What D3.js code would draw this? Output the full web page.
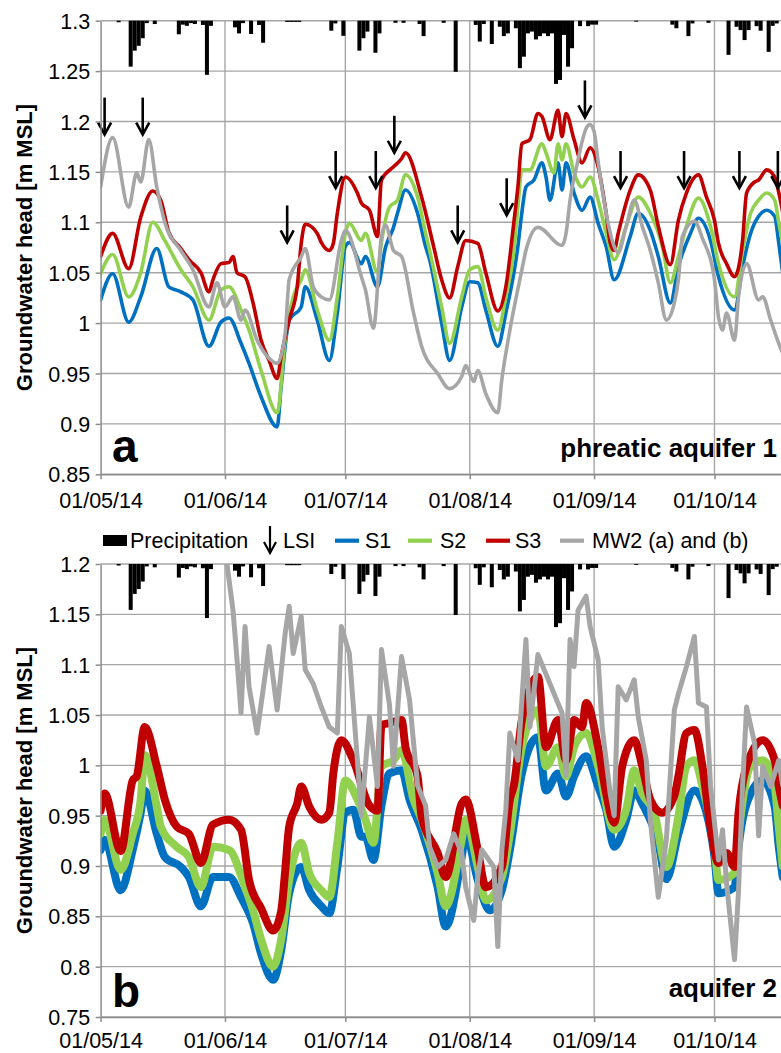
<!DOCTYPE html>
<html>
<head>
<meta charset="utf-8">
<script src="https://cdn.jsdelivr.net/npm/d3@7"></script>
<style>
  html, body { margin: 0; padding: 0; background: #fff; }
  svg { display: block; }
</style>
</head>
<body>
<svg id="chart" width="781" height="1053"></svg>
<script>
// ---------- data ----------
const monthTicks = ["2014-05-01", "2014-06-01", "2014-07-01", "2014-08-01", "2014-09-01", "2014-10-01"];
const headTicksA = [0.85, 0.9, 0.95, 1, 1.05, 1.1, 1.15, 1.2, 1.25, 1.3];
const headTicksB = [0.75, 0.8, 0.85, 0.9, 0.95, 1, 1.05, 1.1, 1.15, 1.2];

// daily precipitation [mm], hanging from the top of each panel
const precipitation = [
  ["2014-05-05",0.5],["2014-05-08",15.2],["2014-05-09",9.9],["2014-05-10",8.3],["2014-05-11",5.8],["2014-05-12",0.8],
  ["2014-05-14",1.1],["2014-05-20",4.5],["2014-05-21",1.3],["2014-05-22",1.7],["2014-05-23",0.8],["2014-05-24",1.1],
  ["2014-05-26",1.4],["2014-05-27",17.9],["2014-05-28",1.7],["2014-06-03",2.2],["2014-06-04",4.2],["2014-06-05",0.8],
  ["2014-06-07",4.4],["2014-06-09",1.4],["2014-06-10",7.3],["2014-06-16",0.4],["2014-06-17",0.4],["2014-06-18",0.4],
  ["2014-06-19",0.4],["2014-06-27",3.3],["2014-06-28",0.9],["2014-06-30",5.0],["2014-07-04",9.9],["2014-07-05",5.8],
  ["2014-07-06",3.6],["2014-07-08",10.6],["2014-07-09",4.2],["2014-07-13",0.7],["2014-07-15",0.7],["2014-07-19",1.1],
  ["2014-07-20",5.1],["2014-07-25",0.7],["2014-07-28",16.9],["2014-08-02",1.4],["2014-08-03",6.9],["2014-08-04",1.1],
  ["2014-08-06",7.7],["2014-08-08",2.0],["2014-08-09",5.1],["2014-08-10",4.2],["2014-08-12",2.5],["2014-08-13",15.7],
  ["2014-08-14",11.9],["2014-08-15",4.2],["2014-08-16",3.6],["2014-08-17",6.2],["2014-08-18",5.1],["2014-08-19",4.2],
  ["2014-08-20",5.1],["2014-08-21",4.2],["2014-08-22",20.9],["2014-08-23",19.6],["2014-08-24",4.7],["2014-08-25",15.2],
  ["2014-08-26",9.1],["2014-08-28",1.8],["2014-08-30",1.8],["2014-08-31",1.3],["2014-09-01",1.3],["2014-09-11",0.3],
  ["2014-09-20",1.3],["2014-09-21",2.5],["2014-09-24",5.1],["2014-09-25",0.9],["2014-09-29",0.7],["2014-10-04",11.3],
  ["2014-10-06",2.0],["2014-10-07",3.1],["2014-10-08",6.4],["2014-10-09",3.1],["2014-10-11",1.8],["2014-10-12",3.3],
  ["2014-10-14",10.3],["2014-10-15",1.7],["2014-10-16",0.9]
];
const precipMax = 150;

// LSI events: date and head level at the arrow tip
const lsiEvents = [
  ["2014-05-02",1.187],["2014-05-11T12:00Z",1.187],["2014-06-16T12:00Z",1.080],["2014-06-28T14:00Z",1.134],
  ["2014-07-08T14:00Z",1.134],["2014-07-13T05:00Z",1.169],["2014-07-29",1.080],["2014-08-10T05:00Z",1.107],
  ["2014-08-29T17:00Z",1.204],["2014-09-07T14:00Z",1.134],["2014-09-23T10:00Z",1.134],["2014-10-07T05:00Z",1.134],
  ["2014-10-16T19:00Z",1.134]
];

// (a) phreatic aquifer 1 - groundwater head [m MSL]
const aS1 = [
  ["2014-05-01",1.023],["2014-05-04",1.049],["2014-05-08",1.001],["2014-05-11",1.026],["2014-05-15",1.074],["2014-05-18",1.036],
  ["2014-05-21",1.031],["2014-05-24",1.023],["2014-05-28",0.977],["2014-05-31",1.001],["2014-06-02",1.005],["2014-06-05",0.98],
  ["2014-06-07",0.96],["2014-06-10",0.927],["2014-06-14",0.897],["2014-06-15",0.937],["2014-06-17",1.003],["2014-06-20",1.016],
  ["2014-06-21",1.036],["2014-06-24",1.003],["2014-06-27",0.963],["2014-06-29",1.01],["2014-07-01",1.076],["2014-07-02",1.08],
  ["2014-07-05",1.059],["2014-07-06",1.066],["2014-07-09",1.036],["2014-07-11",1.075],["2014-07-13",1.095],["2014-07-14",1.109],
  ["2014-07-16",1.132],["2014-07-19",1.109],["2014-07-21",1.076],["2014-07-22",1.063],["2014-07-25",1.0],["2014-07-27",0.963],
  ["2014-07-30",1.016],["2014-08-01",1.041],["2014-08-03",1.04],["2014-08-05",1.013],["2014-08-08",0.977],["2014-08-10",1.01],
  ["2014-08-13",1.076],["2014-08-14",1.11],["2014-08-15",1.135],["2014-08-17",1.142],["2014-08-19",1.159],["2014-08-20",1.145],
  ["2014-08-21",1.122],["2014-08-23",1.159],["2014-08-24",1.132],["2014-08-25",1.159],["2014-08-27",1.129],["2014-08-29",1.112],
  ["2014-08-31",1.125],["2014-09-02",1.099],["2014-09-04",1.076],["2014-09-06",1.043],["2014-09-10",1.086],["2014-09-12",1.109],
  ["2014-09-15",1.092],["2014-09-17",1.066],["2014-09-20",1.02],["2014-09-22",1.056],["2014-09-25",1.089],["2014-09-27",1.104],
  ["2014-09-30",1.082],["2014-10-02",1.046],["2014-10-06",1.013],["2014-10-08",1.056],["2014-10-10",1.089],["2014-10-12",1.106],
  ["2014-10-14",1.112],["2014-10-16",1.106],["2014-10-17",1.08],["2014-10-18",1.05]
];
const aS2 = [
  ["2014-05-01",1.049],["2014-05-04",1.068],["2014-05-08",1.026],["2014-05-11",1.05],["2014-05-14",1.1],["2014-05-17",1.082],
  ["2014-05-21",1.053],["2014-05-24",1.036],["2014-05-28",1.003],["2014-05-31",1.033],["2014-06-02",1.036],["2014-06-05",1.013],
  ["2014-06-07",0.993],["2014-06-10",0.953],["2014-06-14",0.911],["2014-06-16",0.983],["2014-06-18",1.026],["2014-06-20",1.043],
  ["2014-06-21",1.053],["2014-06-24",1.013],["2014-06-27",0.983],["2014-06-29",1.026],["2014-07-01",1.089],["2014-07-02",1.099],
  ["2014-07-05",1.082],["2014-07-06",1.089],["2014-07-09",1.05],["2014-07-10",1.08],["2014-07-12",1.115],["2014-07-14",1.122],
  ["2014-07-16",1.147],["2014-07-19",1.125],["2014-07-21",1.089],["2014-07-22",1.072],["2014-07-25",1.016],["2014-07-27",0.98],
  ["2014-07-30",1.026],["2014-08-01",1.053],["2014-08-03",1.056],["2014-08-05",1.026],["2014-08-08",0.993],["2014-08-10",1.026],
  ["2014-08-12",1.072],["2014-08-13",1.115],["2014-08-14",1.152],["2014-08-16",1.152],["2014-08-19",1.178],["2014-08-20",1.169],
  ["2014-08-22",1.149],["2014-08-23",1.178],["2014-08-24",1.162],["2014-08-25",1.178],["2014-08-27",1.149],["2014-08-29",1.135],
  ["2014-08-31",1.145],["2014-09-02",1.122],["2014-09-04",1.089],["2014-09-06",1.063],["2014-09-09",1.096],["2014-09-12",1.125],
  ["2014-09-15",1.109],["2014-09-18",1.076],["2014-09-20",1.04],["2014-09-22",1.066],["2014-09-24",1.096],["2014-09-27",1.124],
  ["2014-09-30",1.096],["2014-10-02",1.059],["2014-10-06",1.026],["2014-10-08",1.072],["2014-10-10",1.109],["2014-10-12",1.122],
  ["2014-10-14",1.129],["2014-10-16",1.122],["2014-10-17",1.1],["2014-10-18",1.08]
];
const aS3 = [
  ["2014-05-01",1.066],["2014-05-04",1.089],["2014-05-08",1.054],["2014-05-11",1.105],["2014-05-14",1.131],["2014-05-16",1.122],
  ["2014-05-18",1.09],["2014-05-21",1.074],["2014-05-23",1.063],["2014-05-26",1.05],["2014-05-28",1.031],["2014-05-29",1.043],
  ["2014-05-31",1.059],["2014-06-02",1.06],["2014-06-03",1.066],["2014-06-04",1.05],["2014-06-06",1.046],["2014-06-08",1.02],
  ["2014-06-10",0.983],["2014-06-12",0.963],["2014-06-14",0.945],["2014-06-15",0.967],["2014-06-17",1.003],["2014-06-19",1.036],
  ["2014-06-20",1.079],["2014-06-21",1.098],["2014-06-24",1.089],["2014-06-25",1.08],["2014-06-27",1.072],["2014-06-28",1.079],
  ["2014-06-29",1.109],["2014-07-01",1.145],["2014-07-04",1.129],["2014-07-05",1.119],["2014-07-07",1.112],["2014-07-09",1.086],
  ["2014-07-10",1.142],["2014-07-13",1.155],["2014-07-15",1.163],["2014-07-16",1.169],["2014-07-20",1.125],["2014-07-23",1.076],
  ["2014-07-25",1.043],["2014-07-27",1.025],["2014-07-29",1.056],["2014-07-31",1.082],["2014-08-03",1.079],["2014-08-05",1.05],
  ["2014-08-08",1.012],["2014-08-10",1.036],["2014-08-12",1.1],["2014-08-13",1.135],["2014-08-14",1.178],["2014-08-16",1.182],
  ["2014-08-18",1.208],["2014-08-19",1.205],["2014-08-21",1.182],["2014-08-23",1.211],["2014-08-24",1.185],["2014-08-25",1.208],
  ["2014-08-27",1.182],["2014-08-29",1.159],["2014-08-31",1.174],["2014-09-02",1.155],["2014-09-04",1.109],["2014-09-05",1.08],
  ["2014-09-06",1.072],["2014-09-07",1.089],["2014-09-10",1.132],["2014-09-12",1.147],["2014-09-15",1.132],["2014-09-17",1.096],
  ["2014-09-20",1.058],["2014-09-22",1.102],["2014-09-24",1.129],["2014-09-27",1.147],["2014-09-29",1.125],["2014-10-01",1.102],
  ["2014-10-02",1.079],["2014-10-04",1.059],["2014-10-06",1.046],["2014-10-08",1.082],["2014-10-09",1.129],["2014-10-11",1.14],
  ["2014-10-12",1.142],["2014-10-14",1.152],["2014-10-16",1.145],["2014-10-17",1.13],["2014-10-18",1.11]
];
const aMW2 = [
  ["2014-05-01",1.135],["2014-05-04",1.184],["2014-05-08",1.115],["2014-05-10",1.149],["2014-05-11",1.14],["2014-05-13",1.182],
  ["2014-05-15",1.135],["2014-05-17",1.10],["2014-05-21",1.072],["2014-05-24",1.053],["2014-05-28",1.016],["2014-05-30",1.04],
  ["2014-06-01",1.016],["2014-06-03",1.026],["2014-06-05",1.003],["2014-06-06",1.013],["2014-06-09",0.983],["2014-06-12",0.965],
  ["2014-06-14",0.96],["2014-06-16",0.99],["2014-06-17",1.043],["2014-06-20",1.066],["2014-06-21",1.074],["2014-06-23",1.036],
  ["2014-06-25",1.026],["2014-06-27",1.023],["2014-06-30",1.082],["2014-07-01",1.092],["2014-07-05",1.046],["2014-07-06",1.033],
  ["2014-07-08",0.995],["2014-07-10",1.086],["2014-07-11",1.097],["2014-07-13",1.072],["2014-07-15",1.066],["2014-07-18",1.01],
  ["2014-07-20",0.977],["2014-07-24",0.95],["2014-07-27",0.935],["2014-07-30",0.947],["2014-07-31",0.958],["2014-08-02",0.942],
  ["2014-08-03",0.953],["2014-08-05",0.93],["2014-08-08",0.911],["2014-08-09",0.944],["2014-08-11",0.993],["2014-08-14",1.053],
  ["2014-08-15",1.072],["2014-08-18",1.095],["2014-08-24",1.077],["2014-08-25",1.089],["2014-08-26",1.122],["2014-08-28",1.162],
  ["2014-08-29",1.18],["2014-08-30",1.193],["2014-08-31",1.197],["2014-09-01",1.19],["2014-09-02",1.16],["2014-09-04",1.109],
  ["2014-09-06",1.076],["2014-09-07",1.07],["2014-09-09",1.096],["2014-09-11",1.122],["2014-09-13",1.096],["2014-09-15",1.072],
  ["2014-09-17",1.04],["2014-09-19",1.003],["2014-09-21",1.02],["2014-09-22",1.043],["2014-09-23",1.086],["2014-09-26",1.101],
  ["2014-09-28",1.084],["2014-10-01",1.043],["2014-10-02",1.006],["2014-10-03",0.993],["2014-10-04",1.01],["2014-10-06",0.983],
  ["2014-10-07",1.026],["2014-10-09",1.059],["2014-10-12",1.023],["2014-10-13",1.026],["2014-10-15",1.003],["2014-10-17",0.98],
  ["2014-10-18",0.97]
];

// (b) aquifer 2 - groundwater head [m MSL]
const bS1 = [
  ["2014-05-01",0.916],["2014-05-02",0.926],["2014-05-06",0.876],["2014-05-09",0.916],["2014-05-11",0.953],["2014-05-12",0.975],
  ["2014-05-15",0.932],["2014-05-17",0.909],["2014-05-21",0.899],["2014-05-23",0.889],["2014-05-26",0.86],["2014-05-29",0.889],
  ["2014-06-02",0.889],["2014-06-05",0.869],["2014-06-08",0.843],["2014-06-10",0.813],["2014-06-13",0.787],["2014-06-15",0.816],
  ["2014-06-17",0.873],["2014-06-20",0.899],["2014-06-22",0.876],["2014-06-25",0.86],["2014-06-27",0.853],["2014-06-29",0.899],
  ["2014-07-01",0.953],["2014-07-03",0.956],["2014-07-05",0.929],["2014-07-06",0.929],["2014-07-08",0.906],["2014-07-10",0.96],
  ["2014-07-12",0.992],["2014-07-15",0.995],["2014-07-17",0.966],["2014-07-20",0.936],["2014-07-24",0.879],["2014-07-26",0.84],
  ["2014-07-30",0.909],["2014-07-31",0.932],["2014-08-03",0.886],["2014-08-06",0.856],["2014-08-09",0.876],["2014-08-11",0.916],
  ["2014-08-14",0.992],["2014-08-18",1.028],["2014-08-20",0.975],["2014-08-23",0.992],["2014-08-25",0.969],["2014-08-27",0.989],
  ["2014-08-30",1.009],["2014-09-02",0.979],["2014-09-04",0.956],["2014-09-06",0.919],["2014-09-09",0.946],["2014-09-11",0.975],
  ["2014-09-13",0.962],["2014-09-17",0.923],["2014-09-19",0.887],["2014-09-22",0.932],["2014-09-26",0.975],["2014-09-29",0.953],
  ["2014-10-01",0.909],["2014-10-02",0.873],["2014-10-06",0.879],["2014-10-07",0.919],["2014-10-10",0.972],["2014-10-13",0.985],
  ["2014-10-16",0.959],["2014-10-17",0.92],["2014-10-18",0.889]
];
const bS2 = [
  ["2014-05-01",0.932],["2014-05-02",0.946],["2014-05-06",0.896],["2014-05-09",0.932],["2014-05-11",0.966],["2014-05-12",1.01],
  ["2014-05-15",0.959],["2014-05-16",0.939],["2014-05-20",0.919],["2014-05-23",0.909],["2014-05-26",0.879],["2014-05-29",0.919],
  ["2014-06-02",0.916],["2014-06-06",0.879],["2014-06-08",0.856],["2014-06-10",0.827],["2014-06-13",0.80],["2014-06-15",0.827],
  ["2014-06-17",0.886],["2014-06-20",0.923],["2014-06-22",0.893],["2014-06-25",0.876],["2014-06-27",0.869],["2014-06-29",0.923],
  ["2014-07-01",0.985],["2014-07-04",0.966],["2014-07-06",0.946],["2014-07-08",0.923],["2014-07-10",0.999],["2014-07-13",1.005],
  ["2014-07-15",1.015],["2014-07-18",0.966],["2014-07-20",0.946],["2014-07-24",0.893],["2014-07-26",0.86],["2014-07-30",0.926],
  ["2014-07-31",0.946],["2014-08-03",0.899],["2014-08-05",0.866],["2014-08-09",0.889],["2014-08-11",0.932],["2014-08-14",1.018],
  ["2014-08-18",1.055],["2014-08-20",0.999],["2014-08-23",1.018],["2014-08-25",0.989],["2014-08-27",1.018],["2014-08-30",1.032],
  ["2014-09-02",0.999],["2014-09-06",0.936],["2014-09-09",0.956],["2014-09-11",0.995],["2014-09-13",0.972],["2014-09-16",0.953],
  ["2014-09-19",0.899],["2014-09-22",0.949],["2014-09-24",0.999],["2014-09-26",1.005],["2014-09-28",0.979],["2014-10-01",0.919],
  ["2014-10-02",0.886],["2014-10-06",0.893],["2014-10-07",0.932],["2014-10-10",0.999],["2014-10-13",1.005],["2014-10-16",0.979],
  ["2014-10-17",0.94],["2014-10-18",0.9]
];
const bS3 = [
  ["2014-05-01",0.955],["2014-05-02",0.972],["2014-05-06",0.915],["2014-05-09",0.985],["2014-05-10",0.989],["2014-05-12",1.038],
  ["2014-05-15",0.999],["2014-05-17",0.966],["2014-05-20",0.939],["2014-05-23",0.932],["2014-05-26",0.903],["2014-05-29",0.941],
  ["2014-06-02",0.946],["2014-06-05",0.936],["2014-06-07",0.886],["2014-06-10",0.858],["2014-06-13",0.836],["2014-06-15",0.855],
  ["2014-06-16",0.895],["2014-06-17",0.939],["2014-06-19",0.962],["2014-06-20",0.979],["2014-06-22",0.959],["2014-06-25",0.946],
  ["2014-06-27",0.953],["2014-06-28",0.992],["2014-06-30",1.025],["2014-07-03",1.005],["2014-07-07",0.96],["2014-07-09",0.955],
  ["2014-07-10",1.04],["2014-07-12",1.042],["2014-07-15",1.045],["2014-07-16",1.018],["2014-07-19",0.989],["2014-07-20",0.949],
  ["2014-07-24",0.913],["2014-07-26",0.889],["2014-07-30",0.962],["2014-07-31",0.966],["2014-08-03",0.916],["2014-08-05",0.879],
  ["2014-08-09",0.899],["2014-08-11",0.966],["2014-08-12",0.98],["2014-08-14",1.045],["2014-08-18",1.088],["2014-08-20",1.018],
  ["2014-08-23",1.045],["2014-08-25",1.005],["2014-08-27",1.045],["2014-08-29",1.038],["2014-08-30",1.062],["2014-09-02",1.018],
  ["2014-09-04",0.972],["2014-09-06",0.943],["2014-09-08",0.999],["2014-09-11",1.025],["2014-09-13",0.999],["2014-09-15",0.966],
  ["2014-09-18",0.953],["2014-09-21",0.97],["2014-09-22",0.989],["2014-09-24",1.032],["2014-09-26",1.035],["2014-09-28",0.999],
  ["2014-09-30",0.939],["2014-10-02",0.903],["2014-10-04",0.913],["2014-10-06",0.899],["2014-10-07",0.953],["2014-10-09",0.999],
  ["2014-10-13",1.025],["2014-10-16",1.005],["2014-10-17",0.98],["2014-10-18",0.96]
];
const bMW2 = [
  ["2014-06-01",1.215],["2014-06-03",1.154],["2014-06-04",1.105],["2014-06-05",1.052],["2014-06-06",1.138],["2014-06-07",1.078],
  ["2014-06-09",1.032],["2014-06-12",1.118],["2014-06-14",1.055],["2014-06-16",1.131],["2014-06-17",1.158],["2014-06-18",1.111],
  ["2014-06-20",1.148],["2014-06-21",1.095],["2014-06-23",1.081],["2014-06-25",1.058],["2014-06-27",1.038],["2014-06-29",1.032],
  ["2014-06-30",1.138],["2014-07-02",1.111],["2014-07-04",1.005],["2014-07-05",0.95],["2014-07-07",1.048],["2014-07-09",0.979],
  ["2014-07-10",1.115],["2014-07-12",1.06],["2014-07-13",0.999],["2014-07-15",1.108],["2014-07-17",1.065],["2014-07-19",0.98],
  ["2014-07-21",0.96],["2014-07-22",0.919],["2014-07-24",0.899],["2014-07-26",0.906],["2014-07-28",0.932],["2014-07-30",0.913],
  ["2014-07-31",0.879],["2014-08-02",0.846],["2014-08-03",0.889],["2014-08-04",0.916],["2014-08-07",0.899],["2014-08-08",0.82],
  ["2014-08-09",0.916],["2014-08-10",0.956],["2014-08-11",1.032],["2014-08-13",1.005],["2014-08-15",1.125],["2014-08-16",1.038],
  ["2014-08-18",1.11],["2014-08-24",1.052],["2014-08-25",0.99],["2014-08-26",1.125],["2014-08-27",1.098],["2014-08-28",1.154],
  ["2014-08-30",1.168],["2014-08-31",1.138],["2014-09-02",1.105],["2014-09-03",1.038],["2014-09-05",0.972],["2014-09-06",0.95],
  ["2014-09-07",1.078],["2014-09-09",1.065],["2014-09-11",1.085],["2014-09-12",1.048],["2014-09-14",1.005],["2014-09-15",0.946],
  ["2014-09-17",0.869],["2014-09-19",0.926],["2014-09-21",1.055],["2014-09-22",1.071],["2014-09-24",1.098],["2014-09-26",1.128],
  ["2014-09-27",1.062],["2014-09-29",1.058],["2014-09-30",0.98],["2014-10-02",0.906],["2014-10-03",0.936],["2014-10-04",0.883],
  ["2014-10-06",0.807],["2014-10-07",0.876],["2014-10-08",0.98],["2014-10-09",1.058],["2014-10-11",1.022],["2014-10-12",0.93],
  ["2014-10-13",0.999],["2014-10-15",0.979],["2014-10-17",1.005],["2014-10-18",0.98]
];

// ---------- drawing ----------
const FONT = '"Liberation Sans", Arial, Helvetica, sans-serif';
const GRID = "#a6a6a6";
const AXIS = "#8c8c8c";
const COLOR = { S1: "#0070c0", S2: "#92d050", S3: "#c00000", MW2: "#a6a6a6" };
const W = 781;

const parse = d3.isoParse;
const svg = d3.select("#chart").attr("font-family", FONT);

const x = d3.scaleUtc()
  .domain([parse("2014-05-01"), parse("2014-10-18")])
  .range([100.6, 782.7]);
const x0 = x.range()[0];
const dayWidth = x(parse("2014-05-02")) - x(parse("2014-05-01"));
const monthDates = monthTicks.map(parse);

const smooth = d3.curveMonotoneX;
const panels = [
  {
    key: "a", top: 20.7, bottom: 474.3, domain: [0.85, 1.3], ticks: headTicksA,
    series: [[aS1, "S1"], [aS2, "S2"], [aS3, "S3"], [aMW2, "MW2"]],
    width: { S1: 3.6, S2: 3.6, S3: 3.6, MW2: 3.6 },
    curve: { S1: smooth, S2: smooth, S3: smooth, MW2: smooth },
    letter: "a", name: "phreatic aquifer 1", nameBaseline: 457, letterBaseline: 462,
    labelOffset: 33.5, arrows: true
  },
  {
    key: "b", top: 564, bottom: 1017, domain: [0.75, 1.2], ticks: headTicksB,
    series: [[bS1, "S1"], [bS2, "S2"], [bS3, "S3"], [bMW2, "MW2"]],
    width: { S1: 8, S2: 8, S3: 8, MW2: 5 },
    curve: { S1: smooth, S2: smooth, S3: smooth, MW2: d3.curveLinear },
    letter: "b", name: "aquifer 2", nameBaseline: 997, letterBaseline: 1007,
    labelOffset: 30.5, arrows: false
  }
];

panels.forEach(p => {
  const y = d3.scaleLinear().domain(p.domain).range([p.bottom, p.top]);
  const g = svg.append("g");

  // horizontal gridlines
  g.append("g").selectAll("line").data(p.ticks).join("line")
    .attr("x1", x0).attr("x2", W)
    .attr("y1", d => y(d)).attr("y2", d => y(d))
    .attr("stroke", GRID).attr("stroke-width", 1.4);

  // vertical gridlines at month starts
  g.append("g").selectAll("line").data(monthDates.slice(1)).join("line")
    .attr("x1", d => x(d)).attr("x2", d => x(d))
    .attr("y1", p.top).attr("y2", p.bottom)
    .attr("stroke", GRID).attr("stroke-width", 1.4);

  // precipitation bars hanging from the top edge
  const depth = d3.scaleLinear().domain([0, precipMax]).range([0, p.bottom - p.top]);
  g.append("g").selectAll("rect").data(precipitation).join("rect")
    .attr("x", d => x(parse(d[0])))
    .attr("width", dayWidth)
    .attr("y", p.top)
    .attr("height", d => depth(d[1]))
    .attr("fill", "#000");

  // groundwater head lines
  const clipId = "clip-" + p.key;
  svg.append("clipPath").attr("id", clipId).append("rect")
    .attr("x", x0).attr("y", p.top).attr("width", W - x0).attr("height", p.bottom - p.top);
  const lines = g.append("g").attr("clip-path", `url(#${clipId})`);
  p.series.forEach(([data, name]) => {
    const line = d3.line()
      .x(d => x(parse(d[0])))
      .y(d => y(d[1]))
      .curve(p.curve[name]);
    lines.append("path")
      .datum(data)
      .attr("d", line)
      .attr("fill", "none")
      .attr("stroke", COLOR[name])
      .attr("stroke-width", p.width[name])
      .attr("stroke-linejoin", "round")
      .attr("stroke-linecap", "round");
  });

  // LSI arrows
  if (p.arrows) {
    const ag = g.append("g").attr("stroke", "#000").attr("stroke-width", 2.6).attr("fill", "none");
    lsiEvents.forEach(([d, v]) => {
      const ax = x(parse(d)), ay = y(v);
      ag.append("line").attr("x1", ax).attr("x2", ax).attr("y1", ay - 37).attr("y2", ay - 1);
      ag.append("path").attr("d", `M${ax - 6.5},${ay - 12}L${ax},${ay}L${ax + 6.5},${ay - 12}`);
    });
  }

  // y axis
  const yAxis = d3.axisLeft(y).tickValues(p.ticks).tickFormat(d3.format("~g"))
    .tickSize(5).tickSizeOuter(0).tickPadding(5.5);
  const ya = g.append("g").attr("transform", `translate(${x0},0)`).call(yAxis);
  ya.select(".domain").attr("stroke", AXIS).attr("stroke-width", 1.5);
  ya.selectAll(".tick line").attr("stroke", AXIS).attr("stroke-width", 1.5);
  ya.selectAll("text").attr("font-size", 21.5).attr("font-family", FONT).attr("fill", "#000").attr("dy", "0.35em");

  // x axis
  const xAxis = d3.axisBottom(x).tickValues(monthDates).tickFormat(d3.utcFormat("%d/%m/%y"))
    .tickSize(5).tickSizeOuter(0);
  const xa = g.append("g").attr("transform", `translate(0,${p.bottom})`).call(xAxis);
  xa.select(".domain").attr("stroke", AXIS).attr("stroke-width", 1.5);
  xa.selectAll(".tick line").attr("stroke", AXIS).attr("stroke-width", 1.5);
  xa.selectAll("text").attr("font-size", 21.5).attr("font-family", FONT).attr("fill", "#000")
    .attr("dy", null).attr("y", p.labelOffset);

  // axis title
  g.append("text")
    .attr("transform", `translate(31.5,${(p.top + p.bottom) / 2}) rotate(-90)`)
    .attr("text-anchor", "middle")
    .attr("font-size", 22).attr("font-weight", "bold")
    .text("Groundwater head [m MSL]");

  // panel letter and aquifer name
  g.append("text").attr("x", 112).attr("y", p.letterBaseline)
    .attr("font-size", 46).attr("font-weight", "bold").text(p.letter);
  g.append("text").attr("x", 777).attr("y", p.nameBaseline)
    .attr("text-anchor", "end").attr("font-size", 26).attr("font-weight", "bold").text(p.name);
});

// ---------- legend ----------
const lg = svg.append("g").attr("font-size", 21.5);
const legendY = 548;
lg.append("rect").attr("x", 103).attr("y", 535).attr("width", 24).attr("height", 11).attr("fill", "#000");
lg.append("text").attr("x", 130).attr("y", legendY).text("Precipitation");
lg.append("line").attr("x1", 270).attr("x2", 270).attr("y1", 526).attr("y2", 552)
  .attr("stroke", "#000").attr("stroke-width", 2.2);
lg.append("path").attr("d", "M264,542L270,553L276,542").attr("fill", "none").attr("stroke", "#000").attr("stroke-width", 2.2);
lg.append("text").attr("x", 283).attr("y", legendY).text("LSI");
const legendLines = [
  ["S1", 335, 365, "S1"],
  ["S2", 408, 440, "S2"],
  ["S3", 486, 515, "S3"],
  ["MW2", 560, 592, "MW2 (a) and (b)"]
];
legendLines.forEach(([k, lx, tx, label]) => {
  lg.append("line").attr("x1", lx).attr("x2", lx + 24).attr("y1", 540.7).attr("y2", 540.7)
    .attr("stroke", COLOR[k]).attr("stroke-width", 4.2);
  lg.append("text").attr("x", tx).attr("y", legendY).text(label);
});
</script>
</body>
</html>
